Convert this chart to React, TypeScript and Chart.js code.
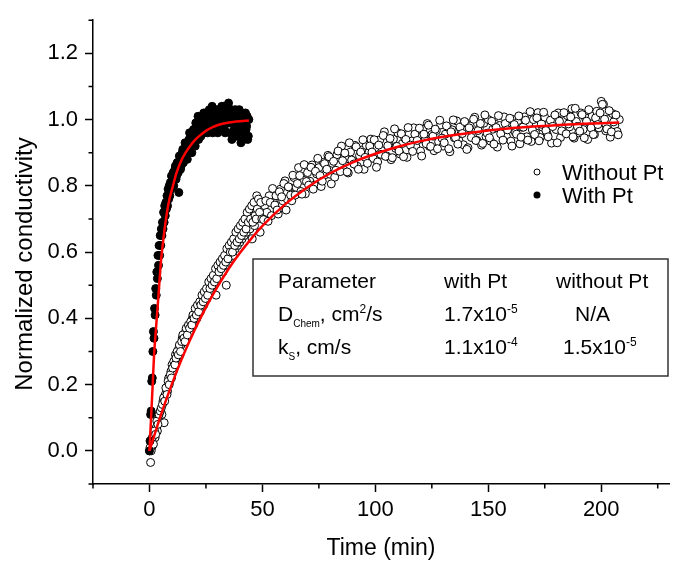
import React, { useEffect, useRef } from 'react';
import { Chart, registerables } from 'chart.js';

Chart.register(...registerables);

const FONT = '"Liberation Sans", Arial, Helvetica, sans-serif';

// ---------- Data: without Pt (open circles), first sweep ----------
const timeWithoutPt = [
  0, 0.5, 1, 1.5, 2, 2.5, 3, 3.5, 4, 4.5,
  5, 5.5, 6, 6.5, 7, 7.5, 8, 8.5, 9, 9.5,
  10, 10.5, 11, 11.5, 12, 12.5, 13, 13.5, 14, 14.5,
  15, 15.5, 16, 16.5, 17, 17.5, 18, 18.5, 19, 19.5,
  20, 20.5, 21, 21.5, 22, 22.5, 23, 23.5, 24, 24.5,
  25, 25.5, 26, 26.5, 27, 27.5, 28, 28.5, 29, 29.5,
  30, 30.5, 31, 31.5, 32, 32.5, 33, 33.5, 34, 34.5,
  35, 35.5, 36, 36.5, 37, 37.5, 38, 38.5, 39, 39.5,
  40, 40.5, 41, 41.5, 42, 42.5, 43, 43.5, 44, 44.5,
  45, 45.5, 46, 46.5, 47, 47.5, 48, 48.5, 49, 49.5,
  50,
  51, 52, 53, 54, 55, 56, 57, 58, 59, 60,
  61, 62, 63, 64, 65, 66, 67, 68, 69, 70,
  71, 72, 73, 74, 75, 76, 77, 78, 79, 80,
  81, 82, 83, 84, 85, 86, 87, 88, 89, 90,
  91, 92, 93, 94, 95, 96, 97, 98, 99, 100,
  101, 102, 103, 104, 105, 106, 107, 108, 109, 110,
  111, 112, 113, 114, 115, 116, 117, 118, 119, 120,
  121, 122, 123, 124, 125, 126, 127, 128, 129, 130,
  131, 132, 133, 134, 135, 136, 137, 138, 139, 140,
  141, 142, 143, 144, 145, 146, 147, 148, 149, 150,
  151, 152, 153, 154, 155, 156, 157, 158, 159, 160,
  161, 162, 163, 164, 165, 166, 167, 168, 169, 170,
  171, 172, 173, 174, 175, 176, 177, 178, 179, 180,
  181, 182, 183, 184, 185, 186, 187, 188, 189, 190,
  191, 192, 193, 194, 195, 196, 197, 198, 199, 200,
  201, 202, 203, 204, 205, 206, 207, 208,
];
const condWithoutPt = [
  0.0, -0.035, 0.01, 0.03, 0.05, 0.04, 0.07, 0.06, 0.1, 0.09,
  0.12, 0.11, 0.15, 0.085, 0.17, 0.19, 0.18, 0.22, 0.21, 0.24,
  0.26, 0.24, 0.27, 0.29, 0.28, 0.3, 0.31, 0.29, 0.32, 0.34,
  0.33, 0.35, 0.36, 0.34, 0.37, 0.38, 0.36, 0.39, 0.4, 0.38,
  0.41, 0.42, 0.4, 0.43, 0.44, 0.42, 0.45, 0.46, 0.44, 0.47,
  0.48, 0.46, 0.49, 0.5, 0.48, 0.51, 0.52, 0.5, 0.53, 0.47,
  0.54, 0.55, 0.53, 0.56, 0.57, 0.54, 0.58, 0.56, 0.5, 0.59,
  0.6, 0.58, 0.61, 0.62, 0.59, 0.63, 0.61, 0.64, 0.62, 0.65,
  0.63, 0.66, 0.64, 0.67, 0.65, 0.69, 0.66, 0.68, 0.7, 0.67,
  0.71, 0.64, 0.72, 0.68, 0.73, 0.77, 0.74, 0.71, 0.66, 0.73,
  0.72,
  0.74, 0.72, 0.77, 0.71, 0.75, 0.77, 0.715, 0.79, 0.755, 0.815,
  0.76, 0.795, 0.755, 0.825, 0.795, 0.855, 0.783, 0.817, 0.776, 0.84,
  0.814, 0.863, 0.802, 0.836, 0.855, 0.798, 0.871, 0.834, 0.892, 0.835,
  0.868, 0.826, 0.894, 0.862, 0.92, 0.848, 0.881, 0.839, 0.902, 0.875,
  0.922, 0.859, 0.891, 0.908, 0.85, 0.922, 0.884, 0.941, 0.883, 0.915,
  0.872, 0.939, 0.906, 0.963, 0.89, 0.922, 0.879, 0.941, 0.913, 0.96,
  0.896, 0.928, 0.944, 0.886, 0.957, 0.919, 0.975, 0.917, 0.948, 0.905,
  0.971, 0.937, 0.988, 0.919, 0.955, 0.906, 0.967, 0.933, 0.984, 0.92,
  0.956, 0.977, 0.903, 0.969, 0.945, 0.996, 0.937, 0.958, 0.924, 0.99,
  0.915, 0.981, 0.951, 1.007, 0.937, 0.973, 0.923, 0.989, 0.949, 1.0,
  0.935, 0.971, 0.986, 0.917, 0.982, 0.963, 1.008, 0.949, 0.979, 0.935,
  1.0, 0.961, 0.991, 0.927, 0.977, 1.008, 0.948, 0.989, 0.934, 1.0,
  0.96, 1.021, 0.946, 0.977, 1.007, 0.958, 0.988, 0.929, 0.999, 0.97,
  1.02, 0.946, 0.996, 0.962, 1.012, 0.978, 1.033, 0.944, 0.994, 0.96,
  1.02, 0.97, 1.005, 0.94, 0.99, 1.01, 0.955, 1.025, 0.975, 1.055,
  1.046, 0.966, 1.002, 0.947, 1.018, 0.983, 0.964, 1.0,
];

// ---------- Data: without Pt, interleaved readings ----------
const timeWithoutPtB = [
  0.25, 0.75, 1.25, 1.75, 2.25, 2.75, 3.25, 3.75, 4.25, 4.75,
  5.25, 5.75, 6.25, 6.75, 7.25, 7.75, 8.25, 8.75, 9.25, 9.75,
  10.25, 10.75, 11.25, 11.75, 12.25, 12.75, 13.25, 13.75, 14.25, 14.75,
  15.25, 15.75, 16.25, 16.75, 17.25, 17.75, 18.25, 18.75, 19.25, 19.75,
  20.25, 20.75, 21.25, 21.75, 22.25, 22.75, 23.25, 23.75, 24.25, 24.75,
  25.25, 25.75, 26.25, 26.75, 27.25, 27.75, 28.25, 28.75, 29.25, 29.75,
  30.25, 30.75, 31.25, 31.75, 32.25, 32.75, 33.25, 33.75, 34.25, 34.75,
  35.25, 35.75, 36.25, 36.75, 37.25, 37.75, 38.25, 38.75, 39.25, 39.75,
  40.25, 40.75, 41.25, 41.75, 42.25, 42.75, 43.25, 43.75, 44.25, 44.75,
  45.25, 45.75, 46.25, 46.75, 47.25, 47.75, 48.25, 48.75, 49.25, 49.75,
  50.5, 51.5, 52.5, 53.5, 54.5, 55.5, 56.5, 57.5, 58.5, 59.5,
  60.5, 61.5, 62.5, 63.5, 64.5, 65.5, 66.5, 67.5, 68.5, 69.5,
  70.5, 71.5, 72.5, 73.5, 74.5, 75.5, 76.5, 77.5, 78.5, 79.5,
  80.5, 81.5, 82.5, 83.5, 84.5, 85.5, 86.5, 87.5, 88.5, 89.5,
  90.5, 91.5, 92.5, 93.5, 94.5, 95.5, 96.5, 97.5, 98.5, 99.5,
  100.5, 101.5, 102.5, 103.5, 104.5, 105.5, 106.5, 107.5, 108.5, 109.5,
  110.5, 111.5, 112.5, 113.5, 114.5, 115.5, 116.5, 117.5, 118.5, 119.5,
  120.5, 121.5, 122.5, 123.5, 124.5, 125.5, 126.5, 127.5, 128.5, 129.5,
  130.5, 131.5, 132.5, 133.5, 134.5, 135.5, 136.5, 137.5, 138.5, 139.5,
  140.5, 141.5, 142.5, 143.5, 144.5, 145.5, 146.5, 147.5, 148.5, 149.5,
  150.5, 151.5, 152.5, 153.5, 154.5, 155.5, 156.5, 157.5, 158.5, 159.5,
  160.5, 161.5, 162.5, 163.5, 164.5, 165.5, 166.5, 167.5, 168.5, 169.5,
  170.5, 171.5, 172.5, 173.5, 174.5, 175.5, 176.5, 177.5, 178.5, 179.5,
  180.5, 181.5, 182.5, 183.5, 184.5, 185.5, 186.5, 187.5, 188.5, 189.5,
  190.5, 191.5, 192.5, 193.5, 194.5, 195.5, 196.5, 197.5, 198.5, 199.5,
  200.5, 201.5, 202.5, 203.5, 204.5, 205.5, 206.5, 207.5,
];
const condWithoutPtB = [
  0.01, 0.0, 0.04, 0.02, 0.06, 0.05, 0.09, 0.08, 0.11, 0.12,
  0.13, 0.14, 0.16, 0.15, 0.19, 0.17, 0.21, 0.2, 0.23, 0.22,
  0.25, 0.27, 0.26, 0.28, 0.3, 0.29, 0.32, 0.3, 0.33, 0.35,
  0.34, 0.33, 0.37, 0.35, 0.38, 0.37, 0.39, 0.38, 0.41, 0.4,
  0.43, 0.41, 0.44, 0.42, 0.45, 0.44, 0.47, 0.45, 0.48, 0.46,
  0.49, 0.47, 0.51, 0.49, 0.52, 0.5, 0.53, 0.51, 0.55, 0.52,
  0.56, 0.54, 0.57, 0.55, 0.58, 0.56, 0.59, 0.57, 0.61, 0.58,
  0.62, 0.6, 0.63, 0.6, 0.64, 0.62, 0.66, 0.63, 0.67, 0.64,
  0.68, 0.65, 0.69, 0.66, 0.7, 0.67, 0.72, 0.69, 0.73, 0.7,
  0.74, 0.69, 0.75, 0.71, 0.7, 0.73, 0.76, 0.72, 0.75, 0.7,
  0.698, 0.755, 0.693, 0.75, 0.792, 0.742, 0.727, 0.782, 0.767, 0.807,
  0.727, 0.797, 0.772, 0.832, 0.772, 0.807, 0.831, 0.775, 0.864, 0.813,
  0.802, 0.856, 0.79, 0.844, 0.883, 0.831, 0.814, 0.867, 0.85, 0.888,
  0.806, 0.874, 0.847, 0.905, 0.843, 0.876, 0.899, 0.842, 0.93, 0.878,
  0.866, 0.918, 0.85, 0.902, 0.939, 0.886, 0.868, 0.92, 0.902, 0.939,
  0.856, 0.923, 0.895, 0.952, 0.889, 0.921, 0.943, 0.885, 0.972, 0.919,
  0.905, 0.957, 0.888, 0.94, 0.976, 0.923, 0.904, 0.956, 0.937, 0.974,
  0.89, 0.956, 0.927, 0.983, 0.919, 0.95, 0.971, 0.912, 0.998, 0.944,
  0.93, 0.981, 0.912, 0.963, 0.999, 0.945, 0.926, 0.977, 0.958, 0.994,
  0.91, 0.975, 0.946, 1.001, 0.937, 0.967, 0.988, 0.928, 1.014, 0.959,
  0.945, 0.995, 0.926, 0.976, 1.012, 0.957, 0.938, 0.988, 0.969, 1.004,
  0.92, 0.985, 0.956, 1.011, 0.947, 0.977, 0.998, 0.938, 1.024, 0.969,
  0.955, 1.005, 0.936, 0.986, 1.022, 0.967, 0.948, 0.998, 0.979, 1.014,
  0.93, 0.995, 0.966, 1.021, 0.957, 0.987, 1.008, 0.948, 1.034, 0.979,
  0.965, 1.015, 0.945, 0.995, 1.03, 0.975, 0.955, 1.005, 0.985, 1.02,
  1.046, 1.001, 0.972, 1.027, 0.963, 0.993, 1.014, 0.954,
];

// ---------- Data: with Pt (filled circles) ----------
const timeWithPt = [
  0, 0.25, 0.5, 0.75, 1, 1.25, 1.5, 1.75, 2, 2.25,
  2.5, 2.75, 3, 3.25, 3.5, 3.75, 4, 4.25, 4.5, 4.75,
  5, 5.25, 5.5, 5.75, 6, 6.25, 6.5, 6.75, 7, 7.25,
  7.5, 7.75, 8, 8.25, 8.5, 8.75, 9, 9.25, 9.5, 9.75,
  10, 10.5, 11, 11.5, 12, 12.5, 13, 13.5, 14, 14.5,
  15, 15.5, 16, 16.5, 17, 17.5, 18, 18.5, 19, 19.5,
  20, 20.5, 21, 21.5, 22, 22.5, 23, 23.5, 24, 24.5,
  25, 25.5, 26, 26.5, 27, 27.5, 28, 28.5, 29, 29.5,
  30, 30.5, 31, 31.5, 32, 32.5, 33, 33.5, 34, 34.5,
  35, 35.5, 36, 36.5, 37, 37.5, 38, 38.5, 39, 39.5,
  40, 40.5, 41, 41.5, 42, 42.5, 43, 43.5, 44,
  10.25, 10.75, 11.25, 11.75, 12.25, 12.75, 13.25, 13.75,
  14.25, 14.75, 15.25, 15.75, 16.25, 16.75, 17.25, 17.75,
  18.25, 18.75, 19.25, 19.75, 20.25, 20.75, 21.25, 21.75,
  22.25, 22.75, 23.25, 23.75, 24.25, 24.75, 25.25, 25.75,
  26.25, 26.75, 27.25, 27.75, 28.25, 28.75, 29.25, 29.75,
  30.25, 30.75, 31.25, 31.75, 32.25, 32.75, 33.25, 33.75,
  34.25, 34.75, 35.25, 35.75, 36.25, 36.75, 37.25, 37.75,
  38.25, 38.75, 39.25, 39.75, 40.25, 40.75, 41.25, 41.75,
  42.25, 42.75, 43.25, 43.75,
];
const condWithPt = [
  0.0, 0.03, 0.11, 0.12, 0.21, 0.22, 0.3, 0.36, 0.34, 0.43,
  0.41, 0.49, 0.47, 0.54, 0.52, 0.59, 0.56, 0.62, 0.59, 0.65,
  0.62, 0.67, 0.65, 0.69, 0.67, 0.72, 0.69, 0.74, 0.71, 0.75,
  0.73, 0.77, 0.74, 0.79, 0.76, 0.8, 0.77, 0.81, 0.79, 0.83,
  0.8, 0.84, 0.82, 0.86, 0.83, 0.87, 0.78, 0.88, 0.86, 0.9,
  0.87, 0.91, 0.89, 0.92, 0.9, 0.94, 0.91, 0.95, 0.92, 0.97,
  0.93, 0.99, 0.95, 1.01, 0.96, 0.98, 1.0, 0.97, 1.02, 0.99,
  0.97, 1.01, 0.98, 1.03, 0.99, 1.01, 0.96, 1.02, 0.98, 1.0,
  1.03, 0.97, 1.01, 0.99, 1.04, 0.98, 1.02, 0.96, 1.0, 1.03,
  1.05, 0.99, 1.02, 0.94, 1.01, 0.97, 1.03, 0.95, 1.0, 0.98,
  1.02, 0.93, 0.99, 1.01, 0.96, 1.02, 0.98, 0.94, 1.0,
  0.83, 0.8, 0.85, 0.82, 0.87, 0.84, 0.89, 0.85,
  0.87, 0.91, 0.88, 0.93, 0.9, 0.88, 0.93, 0.96,
  0.94, 0.9, 0.96, 0.94, 0.92, 0.97, 0.98, 0.94,
  1.0, 0.95, 0.99, 1.01, 0.96, 1.02, 0.99, 0.96,
  1.02, 0.98, 1.0, 1.04, 0.99, 0.97, 1.02, 1.0,
  0.96, 1.02, 0.98, 1.03, 1.0, 1.04, 0.97, 1.01,
  0.99, 1.04, 1.01, 0.96, 1.03, 0.99, 0.95, 1.02,
  0.98, 1.01, 0.96, 1.03, 0.99, 1.01, 0.97, 0.94,
  1.0, 0.97, 1.01, 0.95,
];

// ---------- Fitted curves (red) ----------
const fitWithPtTime = [0, 0.5, 1, 1.5, 2, 2.5, 3, 3.5, 4, 5, 6, 7, 8, 9, 10, 12, 14, 16, 18, 20, 22, 25, 28, 31, 34, 37, 40, 44];
const fitWithPtCond = [0, 0.07, 0.14, 0.21, 0.285, 0.335, 0.38, 0.425, 0.47, 0.565, 0.63, 0.685, 0.73, 0.765, 0.79, 0.84, 0.875, 0.9, 0.92, 0.937, 0.95, 0.966, 0.977, 0.985, 0.99, 0.993, 0.995, 0.997];

const fitWithoutPtTime = [0, 5, 10, 15, 20, 25, 30, 35, 40, 45, 50, 60, 70, 80, 90, 100, 110, 120, 130, 140, 150, 160, 170, 180, 190, 200, 208];
const fitWithoutPtCond = [0, 0.107, 0.203, 0.289, 0.365, 0.433, 0.494, 0.549, 0.597, 0.64, 0.679, 0.744, 0.796, 0.838, 0.871, 0.897, 0.918, 0.935, 0.948, 0.958, 0.967, 0.974, 0.979, 0.983, 0.987, 0.989, 0.991];

// ---------- Axes ----------
const xMajorTicks = [0, 50, 100, 150, 200];
const xMinorTicks = [-25, 25, 75, 125, 175, 225];
const yMajorTicks = [0, 0.2, 0.4, 0.6, 0.8, 1.0, 1.2];
const yMinorTicks = [-0.1, 0.1, 0.3, 0.5, 0.7, 0.9, 1.1, 1.3];
const xRange = [-25, 230];
const yRange = [-0.1, 1.3];

const xAxisTitle = 'Time (min)';
const yAxisTitle = 'Normalized conductivity';
const legendLabels = ['Without Pt', 'With Pt'];

// ---------- Inset table ----------
type Seg = { text: string; shift?: 'sub' | 'sup' };
const tableRows: Seg[][][] = [
  [[{ text: 'Parameter' }], [{ text: 'with Pt' }], [{ text: 'without Pt' }]],
  [
    [{ text: 'D' }, { text: 'Chem', shift: 'sub' }, { text: ', cm' }, { text: '2', shift: 'sup' }, { text: '/s' }],
    [{ text: '1.7x10' }, { text: '-5', shift: 'sup' }],
    [{ text: 'N/A' }],
  ],
  [
    [{ text: 'k' }, { text: 'S', shift: 'sub' }, { text: ', cm/s' }],
    [{ text: '1.1x10' }, { text: '-4', shift: 'sup' }],
    [{ text: '1.5x10' }, { text: '-5', shift: 'sup' }],
  ],
];
const tableColOffsets = [
  [25, 191, 303],
  [25, 191, 322],
  [25, 191, 310],
];
const tableRowBaselines = [29, 62, 94.5];

const zip = (xs: number[], ys: number[]) => xs.map((x, i) => ({ x, y: ys[i] }));

const overlayPlugin = {
  id: 'overlay',
  afterDraw(chart: any) {
    const { ctx, chartArea } = chart;
    const xs = chart.scales.x;
    const ys = chart.scales.y;
    ctx.save();

    // minor ticks
    ctx.strokeStyle = '#000';
    ctx.lineWidth = 1.5;
    ctx.beginPath();
    for (const v of xMinorTicks) {
      const p = xs.getPixelForValue(v);
      ctx.moveTo(p, chartArea.bottom);
      ctx.lineTo(p, chartArea.bottom + 4.5);
    }
    for (const v of yMinorTicks) {
      const p = ys.getPixelForValue(v);
      ctx.moveTo(chartArea.left - 4.5, p);
      ctx.lineTo(chartArea.left, p);
    }
    ctx.stroke();

    // axis titles
    ctx.fillStyle = '#000';
    ctx.textBaseline = 'alphabetic';
    ctx.textAlign = 'center';
    ctx.font = `23px ${FONT}`;
    ctx.fillText(xAxisTitle, (chartArea.left + chartArea.right) / 2, 555);
    ctx.save();
    ctx.translate(31.5, 264);
    ctx.rotate(-Math.PI / 2);
    ctx.font = `24px ${FONT}`;
    ctx.fillText(yAxisTitle, 0, 0);
    ctx.restore();

    // legend
    ctx.textAlign = 'left';
    ctx.font = `22px ${FONT}`;
    const lgX = 537;
    const lgY = [172, 195];
    ctx.lineWidth = 1;
    ctx.beginPath();
    ctx.arc(lgX, lgY[0], 3, 0, Math.PI * 2);
    ctx.fillStyle = '#fff';
    ctx.fill();
    ctx.strokeStyle = '#000';
    ctx.stroke();
    ctx.beginPath();
    ctx.arc(lgX, lgY[1], 3.5, 0, Math.PI * 2);
    ctx.fillStyle = '#000';
    ctx.fill();
    ctx.fillText(legendLabels[0], 562, lgY[0] + 7.5);
    ctx.fillText(legendLabels[1], 562, lgY[1] + 7.5);

    // table box
    const bx = 253, by = 259, bw = 415, bh = 117;
    ctx.fillStyle = '#fff';
    ctx.fillRect(bx, by, bw, bh);
    ctx.strokeStyle = '#333';
    ctx.lineWidth = 1.5;
    ctx.strokeRect(bx, by, bw, bh);
    ctx.fillStyle = '#000';
    tableRows.forEach((row, ri) => {
      row.forEach((cell, ci) => {
        let cx = bx + tableColOffsets[ri][ci];
        const baseY = by + tableRowBaselines[ri];
        for (const s of cell) {
          const size = s.shift === 'sub' ? 10 : s.shift === 'sup' ? 12 : 21;
          const dy = s.shift === 'sub' ? 6 : s.shift === 'sup' ? -8 : 0;
          ctx.font = `${size}px ${FONT}`;
          ctx.fillText(s.text, cx, baseY + dy);
          cx += ctx.measureText(s.text).width;
        }
      });
    });

    ctx.restore();
  },
};

export default function App() {
  const ref = useRef<HTMLCanvasElement>(null);
  useEffect(() => {
    if (!ref.current) return;
    const chart = new Chart(ref.current, {
      type: 'scatter',
      data: {
        datasets: [
          {
            label: 'fit with Pt',
            data: zip(fitWithPtTime, fitWithPtCond),
            showLine: true,
            borderColor: '#ff0000',
            borderWidth: 2.5,
            pointRadius: 0,
            cubicInterpolationMode: 'monotone',
            order: 0,
          },
          {
            label: 'fit without Pt',
            data: zip(fitWithoutPtTime, fitWithoutPtCond),
            showLine: true,
            borderColor: '#ff0000',
            borderWidth: 2.5,
            pointRadius: 0,
            cubicInterpolationMode: 'monotone',
            order: 0,
          },
          {
            label: legendLabels[1],
            data: zip(timeWithPt, condWithPt),
            showLine: false,
            pointRadius: 4,
            pointBorderWidth: 1,
            pointBackgroundColor: '#000',
            pointBorderColor: '#000',
            order: 1,
          },
          {
            label: legendLabels[0],
            data: zip(timeWithoutPt, condWithoutPt).concat(zip(timeWithoutPtB, condWithoutPtB)),
            showLine: false,
            pointRadius: 4,
            pointBorderWidth: 1,
            pointBackgroundColor: '#fff',
            pointBorderColor: '#000',
            order: 2,
          },
        ],
      } as any,
      options: {
        animation: false,
        responsive: false,
        devicePixelRatio: 1,
        layout: { padding: { left: 0, right: 4, top: 15, bottom: 0 } },
        plugins: { legend: { display: false }, tooltip: { enabled: false } },
        events: [],
        scales: {
          x: {
            type: 'linear',
            min: xRange[0],
            max: xRange[1],
            afterBuildTicks: (s: any) => {
              s.ticks = xMajorTicks.map((v) => ({ value: v }));
            },
            afterFit: (s: any) => {
              s.height = 77;
            },
            ticks: {
              font: { family: FONT, size: 22 },
              color: '#000',
              padding: 5,
              maxRotation: 0,
              autoSkip: false,
              callback: (v: any) => String(v),
            },
            grid: { drawOnChartArea: false, drawTicks: true, tickLength: 8, tickColor: '#000', tickWidth: 1.5 },
            border: { display: true, color: '#000', width: 1.5 },
            title: { display: false },
          },
          y: {
            type: 'linear',
            min: yRange[0],
            max: yRange[1],
            afterBuildTicks: (s: any) => {
              s.ticks = yMajorTicks.map((v) => ({ value: v }));
            },
            afterFit: (s: any) => {
              s.width = 93;
            },
            ticks: {
              font: { family: FONT, size: 22 },
              color: '#000',
              padding: 7,
              autoSkip: false,
              callback: (v: any) => Number(v).toFixed(1),
            },
            grid: { drawOnChartArea: false, drawTicks: true, tickLength: 8, tickColor: '#000', tickWidth: 1.5 },
            border: { display: true, color: '#000', width: 1.5 },
            title: { display: false },
          },
        },
      } as any,
      plugins: [overlayPlugin],
    });
    return () => chart.destroy();
  }, []);
  return (
    <div style={{ position: 'absolute', left: 0, top: 0, width: 674, height: 561, background: '#fff' }}>
      <canvas ref={ref} width={674} height={561} style={{ display: 'block' }} />
    </div>
  );
}
